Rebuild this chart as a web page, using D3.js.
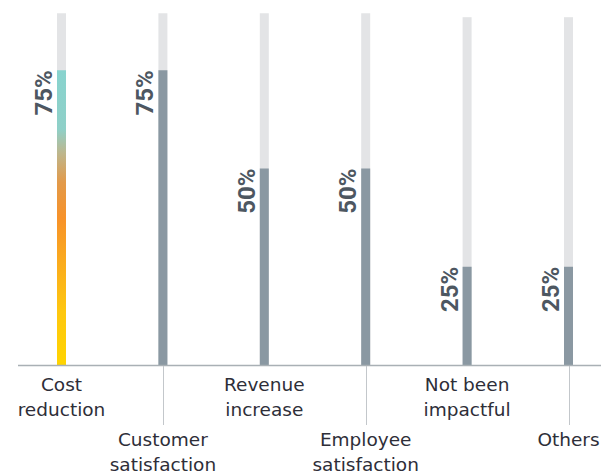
<!DOCTYPE html>
<html>
<head>
<meta charset="utf-8">
<script src="https://cdn.jsdelivr.net/npm/d3@7"></script>
<style>
  html, body { margin: 0; padding: 0; background: #fff; }
  svg { display: block; }
</style>
</head>
<body>
<svg id="chart" width="601" height="473"></svg>
<script>
// Survey results: share of respondents per impact area
const categories = ["Cost reduction", "Customer satisfaction", "Revenue increase",
                    "Employee satisfaction", "Not been impactful", "Others"];
const values = [75, 75, 50, 50, 25, 25];
// Height of the light background track behind each bar
const trackValues = [89.5, 89.5, 89.5, 89.5, 88.5, 88.5];
// Category labels broken into lines
const labelLines = [["Cost", "reduction"], ["Customer", "satisfaction"], ["Revenue", "increase"],
                    ["Employee", "satisfaction"], ["Not been", "impactful"], ["Others"]];

const W = 601, H = 473;
const baseY = 365;
const barW = 9;

const svg = d3.select("#chart");

const x = d3.scalePoint().domain(categories).range([61.5, 568.5]);
const y = d3.scaleLinear().domain([0, 100]).range([baseY, baseY - 393]);

// Gradient for the highlighted first bar (yellow → orange → teal)
const defs = svg.append("defs");
const grad = defs.append("linearGradient")
  .attr("id", "hl")
  .attr("gradientUnits", "userSpaceOnUse")
  .attr("x1", 0).attr("x2", 0)
  .attr("y1", y(0)).attr("y2", y(values[0]));
[
  [0, "#ffd400"], [0.18, "#fec70f"], [0.5, "#f7922a"], [0.62, "#e29a4a"],
  [0.72, "#bdb78e"], [0.8, "#8fd0c8"], [1, "#88d3ce"]
].forEach(([o, c]) => grad.append("stop").attr("offset", o).attr("stop-color", c));

// Background tracks
svg.append("g").selectAll("rect")
  .data(categories)
  .join("rect")
  .attr("x", d => x(d) - barW / 2)
  .attr("width", barW)
  .attr("y", (d, i) => y(trackValues[i]))
  .attr("height", (d, i) => y(0) - y(trackValues[i]))
  .attr("fill", "#e3e4e6");

// Value bars
svg.append("g").selectAll("rect")
  .data(categories)
  .join("rect")
  .attr("x", d => x(d) - barW / 2)
  .attr("width", barW)
  .attr("y", (d, i) => y(values[i]))
  .attr("height", (d, i) => y(0) - y(values[i]))
  .attr("fill", (d, i) => i === 0 ? "url(#hl)" : "#8a98a2");

// Rotated value labels, ending at the top of each bar
svg.append("g").selectAll("text")
  .data(categories)
  .join("text")
  .attr("transform", (d, i) => `translate(${x(d) - barW / 2 - 5},${y(values[i])}) rotate(-90)`)
  .attr("text-anchor", "end")
  .attr("font-family", "Roboto, 'Liberation Sans', sans-serif")
  .attr("font-weight", "bold")
  .attr("font-size", 24)
  .attr("fill", "#4d5761")
  .text((d, i) => values[i] + "%");

// Baseline
svg.append("line")
  .attr("x1", 18).attr("x2", W)
  .attr("y1", baseY + 0.5).attr("y2", baseY + 0.5)
  .attr("stroke", "#a9b0b5")
  .attr("stroke-width", 1.5);

// Leader ticks for the lower (staggered) labels
svg.append("g").selectAll("line")
  .data(categories.filter((d, i) => i % 2 === 1))
  .join("line")
  .attr("x1", d => Math.round(x(d)) + 0.5)
  .attr("x2", d => Math.round(x(d)) + 0.5)
  .attr("y1", baseY + 1)
  .attr("y2", 425)
  .attr("stroke", "#c3c7cb")
  .attr("stroke-width", 1);

// Category labels, alternating between two rows
const lab = svg.append("g")
  .attr("font-family", "'DejaVu Sans', sans-serif")
  .attr("font-size", 18.5)
  .attr("fill", "#2e2e38")
  .attr("text-anchor", "middle");

categories.forEach((c, i) => {
  const top = i % 2 === 0 ? 391 : 446;
  const t = lab.append("text").attr("x", x(c)).attr("y", top);
  labelLines[i].forEach((line, j) => {
    t.append("tspan").attr("x", x(c)).attr("dy", j === 0 ? 0 : 24.5).text(line);
  });
});
</script>
</body>
</html>
